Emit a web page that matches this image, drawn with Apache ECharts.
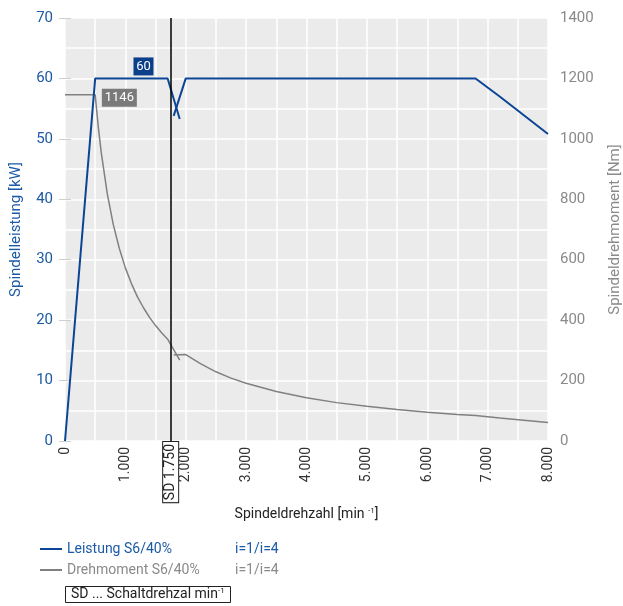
<!DOCTYPE html>
<html>
<head>
<meta charset="utf-8">
<script src="https://cdn.jsdelivr.net/npm/echarts@6/dist/echarts.min.js"></script>
<style>
  html, body { margin: 0; padding: 0; background: #ffffff; }
  #chart { width: 623px; height: 606px; }
</style>
</head>
<body>
<div id="chart"></div>
<script>
// Leistung (kW) ueber Drehzahl, Getriebestufe i=4 und i=1
const powerLow = [[0, 0], [500, 60], [1700, 60], [1900, 53.3]];
const powerHigh = [[1800, 53.8], [2000, 60], [6800, 60], [7200, 57], [8000, 50.8]];
// Drehmoment (Nm)
const torqueLow = [[0, 1146], [500, 1146], [550, 1042], [600, 955], [700, 819], [800, 716],
  [900, 637], [1000, 573], [1100, 521], [1200, 477], [1300, 441], [1400, 409],
  [1500, 382], [1600, 358], [1700, 337], [1900, 268]];
const torqueHigh = [[1800, 285], [2000, 286], [2250, 255], [2500, 229], [2750, 208],
  [3000, 191], [3500, 164], [4000, 143], [4500, 127], [5000, 115], [5500, 104],
  [6000, 95], [6500, 88], [6800, 84], [7200, 76], [8000, 61]];
const switchSpeed = 1750;
const powerMaxLabel = [1300, 60];
const torqueMaxLabel = [900, 1146];

const blue = '#0b4595';
const blueText = '#1c5aa5';
const gray = '#808080';
const grayText = '#8a8a8a';
const font = 'Roboto';

const chart = echarts.init(document.getElementById('chart'));

// 1000 -> "1.000"
function fmt(v) {
  return String(v).replace(/\B(?=(\d{3})+(?!\d))/g, '.');
}

const option = {
  animation: false,
  textStyle: { fontFamily: font },
  grid: {
    left: 65, right: 75, top: 18, bottom: 165,
    outerBoundsMode: 'none', containLabel: false,
    backgroundColor: '#ebebeb', show: true, borderWidth: 0
  },
  title: {
    text: 'SD ... Schaltdrehzal min{sup|-1}',
    left: 65, top: 586,
    padding: [1, 6, 1, 6],
    borderColor: '#222', borderWidth: 1,
    textStyle: {
      fontFamily: font, fontSize: 14, fontWeight: 'normal', color: '#222',
      rich: { sup: { fontSize: 8, padding: [0, 0, 7, 0], color: '#222' } }
    }
  },
  legend: {
    left: 35, top: 537, orient: 'vertical', itemGap: 7,
    icon: 'rect', itemWidth: 22, itemHeight: 2,
    data: [
      { name: 'Leistung S6/40%', textStyle: { color: blueText } },
      { name: 'Drehmoment S6/40%', textStyle: { color: grayText } }
    ],
    textStyle: {
      fontFamily: font, fontSize: 14,
      rich: { a: { width: 168, fontSize: 14 }, b: { fontSize: 14 } }
    },
    formatter: name => '{a|' + name + '}{b|i=1/i=4}'
  },
  xAxis: [{
    type: 'value', min: 0, max: 8000, interval: 1000,
    name: 'Spindeldrehzahl [min {sup|-1}]',
    nameLocation: 'middle', nameGap: 66,
    nameTextStyle: {
      color: '#222', fontSize: 14, fontFamily: font,
      rich: { sup: { fontSize: 8, padding: [0, 0, 7, 0], color: '#222' } }
    },
    axisLine: { show: false },
    axisTick: { show: false },
    axisLabel: { rotate: 90, margin: 6, color: '#333', fontSize: 14, formatter: fmt },
    splitLine: { show: true, lineStyle: { color: '#ffffff', width: 1.5 } },
    minorTick: { show: false, splitNumber: 2 },
    minorSplitLine: { show: true, lineStyle: { color: '#ffffff', width: 1.5 } }
  }, {
    type: 'value', min: 0, max: 8000, position: 'bottom',
    axisLine: { show: false },
    axisTick: { show: false },
    splitLine: { show: false },
    axisLabel: {
      customValues: [switchSpeed], rotate: 90, margin: 1,
      formatter: 'SD ' + fmt(switchSpeed),
      color: '#222', fontSize: 14,
      borderColor: '#222', borderWidth: 1, padding: [1, 2, 0, 2],
      backgroundColor: '#ffffff'
    }
  }],
  yAxis: [{
    type: 'value', min: 0, max: 70, interval: 10,
    name: 'Spindelleistung [kW]',
    nameLocation: 'middle', nameGap: 41, nameRotate: 90,
    nameTextStyle: { color: blueText, fontSize: 15, fontFamily: font },
    axisLine: { show: false },
    axisTick: { show: true, length: 6, lineStyle: { color: '#cfcfcf' } },
    axisLabel: { color: blueText, fontSize: 15, margin: 12 },
    splitLine: { show: true, lineStyle: { color: '#ffffff', width: 1.5 } },
    minorTick: { show: false, splitNumber: 2 },
    minorSplitLine: { show: true, lineStyle: { color: '#ffffff', width: 1.5 } }
  }, {
    type: 'value', min: 0, max: 1400, interval: 200, position: 'right',
    name: 'Spindeldrehmoment [Nm]',
    nameLocation: 'middle', nameGap: 60, nameRotate: 90,
    nameTextStyle: { color: grayText, fontSize: 15, fontFamily: font },
    axisLine: { show: false },
    axisTick: { show: true, length: 6, lineStyle: { color: '#cfcfcf' } },
    axisLabel: { color: grayText, fontSize: 15, margin: 12, formatter: v => String(v) },
    splitLine: { show: false }
  }],
  series: [
    {
      name: 'Leistung S6/40%', type: 'line', symbol: 'none',
      data: powerLow, yAxisIndex: 0,
      lineStyle: { color: blue, width: 2 }, itemStyle: { color: blue },
      z: 4,
      markLine: {
        silent: true, symbol: 'none',
        label: { show: false },
        lineStyle: { color: '#000', width: 1.5, type: 'solid' },
        data: [{ xAxis: switchSpeed }]
      },
      markPoint: {
        symbol: 'rect', symbolSize: [20, 18], symbolOffset: [0, -12],
        itemStyle: { color: '#0b3f8a' },
        label: { color: '#fff', fontSize: 13, fontFamily: font },
        data: [{ coord: powerMaxLabel, value: powerMaxLabel[1] }]
      }
    },
    {
      name: 'Leistung S6/40%', type: 'line', symbol: 'none',
      data: powerHigh, yAxisIndex: 0,
      lineStyle: { color: blue, width: 2 }, itemStyle: { color: blue },
      z: 4
    },
    {
      name: 'Drehmoment S6/40%', type: 'line', symbol: 'none',
      data: torqueLow, yAxisIndex: 1,
      lineStyle: { color: gray, width: 1.5 }, itemStyle: { color: gray },
      z: 3,
      markPoint: {
        symbol: 'rect', symbolSize: [35, 18], symbolOffset: [0, 3],
        itemStyle: { color: '#7a7a7a' },
        label: { color: '#fff', fontSize: 13, fontFamily: font },
        data: [{ coord: torqueMaxLabel, value: torqueMaxLabel[1] }]
      }
    },
    {
      name: 'Drehmoment S6/40%', type: 'line', symbol: 'none',
      data: torqueHigh, yAxisIndex: 1,
      lineStyle: { color: gray, width: 1.5 }, itemStyle: { color: gray },
      z: 3
    }
  ]
};

chart.setOption(option);
</script>
</body>
</html>
